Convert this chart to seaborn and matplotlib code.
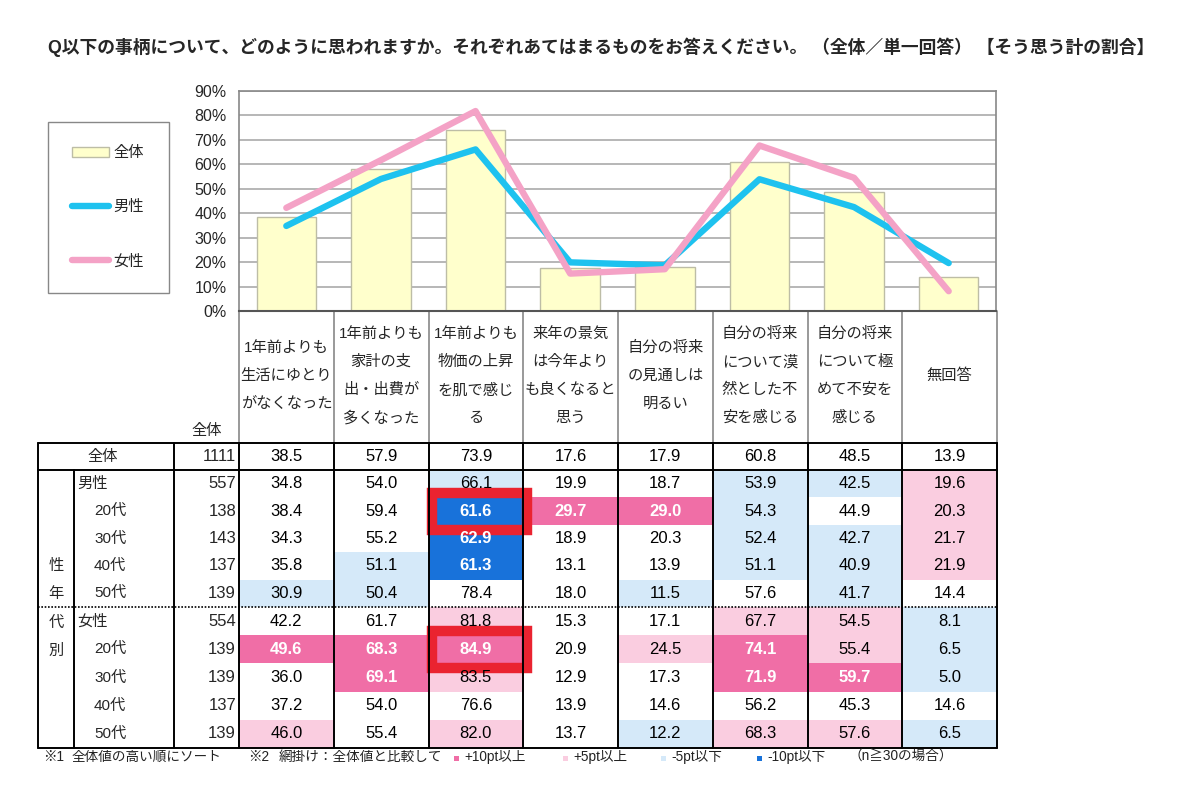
import numpy as np
import pandas as pd
import matplotlib.pyplot as plt
import seaborn as sns
from matplotlib.patches import Rectangle, Patch
from matplotlib.lines import Line2D

sns.set_theme(style="white")
plt.rcParams['font.family'] = ['Liberation Sans', 'Noto Sans CJK JP', 'DejaVu Sans']

# data
items = [
    "1年前よりも\n生活にゆとり\nがなくなった",
    "1年前よりも\n家計の支\n出・出費が\n多くなった",
    "1年前よりも\n物価の上昇\nを肌で感じ\nる",
    "来年の景気\nは今年より\nも良くなると\n思う",
    "自分の将来\nの見通しは\n明るい",
    "自分の将来\nについて漠\n然とした不\n安を感じる",
    "自分の将来\nについて極\nめて不安を\n感じる",
    "無回答",
]
groups = ["全体", "男性", "20代", "30代", "40代", "50代",
          "女性", "20代", "30代", "40代", "50代"]
n_values = [1111, 557, 138, 143, 137, 139, 554, 139, 139, 137, 139]
values = [
    [38.5, 57.9, 73.9, 17.6, 17.9, 60.8, 48.5, 13.9],
    [34.8, 54.0, 66.1, 19.9, 18.7, 53.9, 42.5, 19.6],
    [38.4, 59.4, 61.6, 29.7, 29.0, 54.3, 44.9, 20.3],
    [34.3, 55.2, 62.9, 18.9, 20.3, 52.4, 42.7, 21.7],
    [35.8, 51.1, 61.3, 13.1, 13.9, 51.1, 40.9, 21.9],
    [30.9, 50.4, 78.4, 18.0, 11.5, 57.6, 41.7, 14.4],
    [42.2, 61.7, 81.8, 15.3, 17.1, 67.7, 54.5, 8.1],
    [49.6, 68.3, 84.9, 20.9, 24.5, 74.1, 55.4, 6.5],
    [36.0, 69.1, 83.5, 12.9, 17.3, 71.9, 59.7, 5.0],
    [37.2, 54.0, 76.6, 13.9, 14.6, 56.2, 45.3, 14.6],
    [46.0, 55.4, 82.0, 13.7, 12.2, 68.3, 57.6, 6.5],
]
highlight_cells = [(2, 2), (7, 2)]

title = ("Q以下の事柄について、どのように思われますか。それぞれあてはまるものをお答えください。"
         " （全体／単一回答） 【そう思う計の割合】")

c_bar = "#FFFFCC"
c_men = "#1EC2EF"
c_women = "#F4A2C6"
c_pp = "#F06EA6"   # +10pt
c_p = "#FACDE0"    # +5pt
c_b = "#D5E9F9"    # -5pt
c_bb = "#1872DA"   # -10pt


def shade(v, base):
    d = v - base
    if d >= 10:
        return c_pp
    if d >= 5:
        return c_p
    if d <= -10:
        return c_bb
    if d <= -5:
        return c_b
    return None


fig = plt.figure(figsize=(12, 7.9), dpi=100)

# table layer in pixel coordinates
tab = fig.add_axes([0, 0, 1, 1], zorder=0)
tab.set_xlim(0, 1200)
tab.set_ylim(790, 0)
tab.axis('off')

col_edges = np.linspace(239, 997, 9)
row_tops = [443] + [470 + i * 27.4 for i in range(5)] + [607 + i * 28.2 for i in range(5)]
row_h = [27] + [27.4] * 5 + [28.2] * 5
fs = 11
fs_num = 12

# shaded cells and values
for r, row in enumerate(values):
    yc = row_tops[r] + row_h[r] / 2
    for c, v in enumerate(row):
        x0, x1 = col_edges[c], col_edges[c + 1]
        col = shade(v, values[0][c]) if r > 0 else None
        if col:
            tab.add_patch(Rectangle((x0, row_tops[r]), x1 - x0, row_h[r], facecolor=col, edgecolor='none'))
        strong = col in (c_pp, c_bb)
        tab.text((x0 + x1) / 2, yc, f"{v:.1f}", ha='center', va='center', fontsize=fs_num,
                 color='white' if strong else 'black', fontweight='bold' if strong else 'normal')
    tab.text(236, yc, str(n_values[r]), ha='right', va='center', fontsize=fs_num)
    if r == 0:
        tab.text(103, yc, groups[r], ha='center', va='center', fontsize=fs)
    elif groups[r] in ("男性", "女性"):
        tab.text(77, yc, groups[r], ha='left', va='center', fontsize=fs)
    else:
        tab.text(94, yc, groups[r], ha='left', va='center', fontsize=fs)

# header texts
for c, lab in enumerate(items):
    lines = lab.split("\n")
    xc = (col_edges[c] + col_edges[c + 1]) / 2
    y0 = 376 - (len(lines) - 1) * 28 / 2
    for k, ln in enumerate(lines):
        tab.text(xc, y0 + k * 28, ln, ha='center', va='center', fontsize=fs)
tab.text(207, 431, "全体", ha='center', va='center', fontsize=fs)

for k, ch in enumerate("性年代別"):
    tab.text(56, 566 + k * 28.3, ch, ha='center', va='center', fontsize=fs)

# grid lines of the table
lw = 1.4
for x in col_edges:
    tab.plot([x, x], [311, 443], color='#888888', lw=1.2)
    tab.plot([x, x], [443, 748], color='black', lw=lw)
tab.plot([174, 174], [443, 748], color='black', lw=lw)
tab.plot([38, 38], [443, 748], color='black', lw=lw)
tab.plot([74, 74], [470, 748], color='black', lw=lw)
for y in (443, 470, 748):
    tab.plot([38, 997], [y, y], color='black', lw=lw)
tab.plot([38, 997], [607, 607], color='black', lw=1.2, ls=(0, (1, 1)))

# red highlight frames
for r, c in highlight_cells:
    x0, x1 = col_edges[c], col_edges[c + 1]
    y0 = row_tops[r]
    tab.add_patch(Rectangle((x0 + 3, y0 - 4), x1 - x0 + 1, row_h[r] + 9,
                            facecolor='none', edgecolor='#EA2330', lw=7.5))

# footnote
foot = [(43, "※1"), (72, "全体値の高い順にソート"), (248, "※2"), (279, "網掛け：全体値と比較して")]
for x, t in foot:
    tab.text(x, 757, t, ha='left', va='center', fontsize=9.8, color='#222222')
legend_keys = [(454, c_pp, "+10pt以上"), (563, c_p, "+5pt以上"), (661, c_b, "-5pt以下"), (757, c_bb, "-10pt以下")]
for x, col, t in legend_keys:
    tab.add_patch(Rectangle((x, 756), 5, 5, facecolor=col, edgecolor='none'))
    tab.text(x + 10, 757, t, ha='left', va='center', fontsize=9.8, color='#222222')
tab.text(848, 757, "（n≧30の場合）", ha='left', va='center', fontsize=9.8, color='#222222')

fig.text(48 / 1200, 1 - 47 / 790, title, ha='left', va='center', fontsize=12.8, fontweight='bold')

# chart
ax = fig.add_axes([239 / 1200, 1 - 311 / 790, 757 / 1200, 220 / 790], zorder=1)
df = pd.DataFrame({"item": items, "total": values[0], "men": values[1], "women": values[6],
                   "pos": np.arange(len(items))})
sns.barplot(data=df, x="item", y="total", color=c_bar, saturation=1, edgecolor="#BDBDA6",
            linewidth=1, width=0.63, ax=ax, zorder=2)
sns.lineplot(data=df, x="pos", y="men", color=c_men, linewidth=4.6, ax=ax, zorder=3,
             solid_capstyle='round', solid_joinstyle='round')
sns.lineplot(data=df, x="pos", y="women", color=c_women, linewidth=4.6, ax=ax, zorder=4,
             solid_capstyle='round', solid_joinstyle='round')
ax.set_xlim(-0.5, len(items) - 0.5)
ax.set_ylim(0, 90)
ax.set_yticks(range(0, 91, 10))
ax.set_yticklabels([f"{t}%" for t in range(0, 91, 10)], fontsize=11.5)
ax.set_xticks([])
ax.set_xlabel("")
ax.set_ylabel("")
ax.tick_params(axis='y', length=0, pad=9)
ax.yaxis.grid(True, color='#AAAAAA', lw=1.2)
ax.set_axisbelow(True)
for s in ('left', 'top', 'right'):
    ax.spines[s].set_color('#888888')
    ax.spines[s].set_linewidth(1.2)
ax.spines['bottom'].set_color('#555555')
ax.spines['bottom'].set_linewidth(1.5)

handles = [Patch(facecolor=c_bar, edgecolor="#BDBDA6", label="全体"),
           Line2D([], [], color=c_men, lw=4.6, solid_capstyle='round', label="男性"),
           Line2D([], [], color=c_women, lw=4.6, solid_capstyle='round', label="女性")]
ax.legend(handles=handles, loc='upper left', bbox_to_anchor=(48 / 1200, 1 - 122 / 790),
          bbox_transform=fig.transFigure, fontsize=11, labelspacing=2.6, handlelength=2.4,
          handletextpad=0.3, borderpad=1.6, borderaxespad=0, fancybox=False,
          edgecolor='#888888', framealpha=1)

fig.savefig("out.png", dpi=100)
